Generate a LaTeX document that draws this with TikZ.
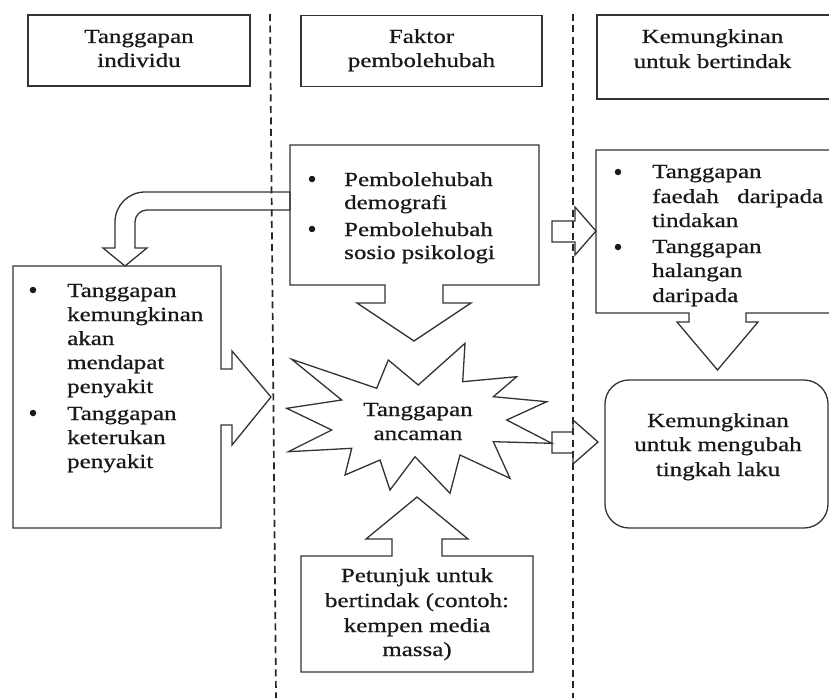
\documentclass[tikz,border=0pt]{standalone}
\usepackage{fontspec}
\setmainfont{Liberation Serif}[FakeStretch=1.25,FakeBold=0.7]
\begin{document}
\begin{tikzpicture}[x=1pt,y=-1pt,
  shp/.style={draw=black!80, line width=1.3pt, line join=miter},
  sep/.style={draw=black!85, line width=1.7pt, dash pattern=on 7pt off 4.5pt},
  tc/.style={inner sep=0pt, anchor=base, font=\fontsize{20}{24}\selectfont, text=black!90},
  tl/.style={tc, anchor=base west},
  bul/.style={circle, fill=black!90, inner sep=0pt, minimum size=6.5pt},
  hbox/.style={shp, inner sep=0pt, minimum height=#1},
  hbox/.default=71pt]
\useasboundingbox (0,0) rectangle (829,698);
\fill[white] (0,0) rectangle (829,698);

% column separators
\coordinate (d1t) at (270,14); \coordinate (d1b) at (276,698);
\coordinate (d2t) at (573,14); \coordinate (d2b) at (573,698);
\draw[sep] (d1t) -- (d1b);
\draw[sep] (d2t) -- (d2b);

% header boxes
\node[hbox, minimum width=222pt] (h1) at (139,50.5) {};
\node[hbox, minimum width=241pt] (h2) at (421.5,51) {};
\draw[shp] (831,15) -- (597,15) -- (597,99) -- (831,99);
\coordinate (h3) at (712.5,57);
\node[tc] (h1a) at (139,43) {Tanggapan};
\node[tc] (h1b) at (139,67) {individu};
\node[tc] (h2a) at (421.5,43) {Faktor};
\node[tc] (h2b) at (421.5,67) {pembolehubah};
\node[tc] (h3a) at (712.5,43) {Kemungkinan};
\node[tc] (h3b) at (712.5,68) {untuk bertindak};

% factors box with down arrow
\draw[shp] (290,145) -- (539,145) -- (539,285) -- (443,285) -- (443,303) -- (471,303) -- (414,341)
  -- (357,303) -- (385,303) -- (385,285) -- (290,285) -- cycle;
\node[bul] (fb1) at (312,179) {};
\node[bul] (fb2) at (312,229) {};
\node[tl] (f1) at (344,186) {Pembolehubah};
\node[tl] (f2) at (344,209) {demografi};
\node[tl] (f3) at (344,236) {Pembolehubah};
\node[tl] (f4) at (344,259) {sosio psikologi};

% bent arrow to left box
\draw[shp] (290,192) -- (145,192) .. controls (128.4,192) and (115,205.4) .. (115,222) -- (115,248)
  -- (103,248) -- (125,266) -- (147,248) -- (135,248) -- (135,222)
  .. controls (135,215.4) and (140.4,210) .. (147,210) -- (290,210) -- cycle;

% left box with right arrow
\draw[shp] (13,266) -- (221,266) -- (221,369) -- (232,369) -- (232,351) -- (271,397) -- (232,445)
  -- (232,425) -- (221,425) -- (221,528) -- (13,528) -- cycle;
\node[bul] (lb1) at (33,290) {};
\node[bul] (lb2) at (33,413) {};
\node[tl] (l1) at (67,297) {Tanggapan};
\node[tl] (l2) at (67,321) {kemungkinan};
\node[tl] (l3) at (67,345) {akan};
\node[tl] (l4) at (67,369) {mendapat};
\node[tl] (l5) at (67,393) {penyakit};
\node[tl] (l6) at (67,420) {Tanggapan};
\node[tl] (l7) at (67,444) {keterukan};
\node[tl] (l8) at (67,468) {penyakit};

% arrow to right box
\draw[shp] (552,221) -- (575,221) -- (575,207) -- (596,231) -- (575,255) -- (575,242) -- (552,242) -- cycle;

% right box with down arrow
\draw[shp] (831,150) -- (596,150) -- (596,313) -- (689,313) -- (689,322) -- (677,322) -- (717.5,370)
  -- (758,322) -- (746,322) -- (746,313) -- (831,313);
\node[bul] (rb1) at (618,172) {};
\node[bul] (rb2) at (618,247) {};
\node[tl] (r1) at (652,178) {Tanggapan};
\node[tl] (r2) at (652,203) {\makebox[171pt][s]{faedah daripada}};
\node[tl] (r3) at (652,227) {tindakan};
\node[tl] (r4) at (652,253) {Tanggapan};
\node[tl] (r5) at (652,277) {halangan};
\node[tl] (r6) at (652,302) {daripada};

% star
\draw[shp] (291.7,359.3) -- (376.7,388.3) -- (388.3,360) -- (418.3,385) -- (465,343.3) -- (462.7,381.7)
  -- (516.7,376.7) -- (493.3,396.7) -- (546.7,401.7) -- (506.7,420) -- (551.7,443.3) -- (493.3,441.7)
  -- (510,478.3) -- (460,455) -- (450,493.3) -- (415,456.7) -- (390,490) -- (380,460) -- (345,475)
  -- (351.7,448.3) -- (288.3,451.7) -- (331.7,430) -- (286.7,408.3) -- (341.7,400) -- cycle;
\node[tc] (s1) at (418,416) {Tanggapan};
\node[tc] (s2) at (418,440) {ancaman};

% arrow to rounded box
\draw[shp] (552,432) -- (573,432) -- (573,420) -- (598,442) -- (573,464) -- (573,453) -- (552,453) -- cycle;

% rounded box
\node[shp, rounded corners=24pt, minimum width=223pt, minimum height=148pt, inner sep=0pt] (rbox) at (716.5,454) {};
\node[tc] (k1) at (718,427) {Kemungkinan};
\node[tc] (k2) at (718,451) {untuk mengubah};
\node[tc] (k3) at (718,476) {tingkah laku};

% cues box with up arrow
\draw[shp] (301,556) -- (392,556) -- (392,539) -- (366,539) -- (417,497) -- (468,539) -- (442,539)
  -- (442,556) -- (533,556) -- (533,672) -- (301,672) -- cycle;
\node[tc] (p1) at (417,582) {Petunjuk untuk};
\node[tc] (p2) at (417,607) {bertindak (contoh:};
\node[tc] (p3) at (417,632) {kempen media};
\node[tc] (p4) at (417,656) {massa)};
\end{tikzpicture}
\end{document}
